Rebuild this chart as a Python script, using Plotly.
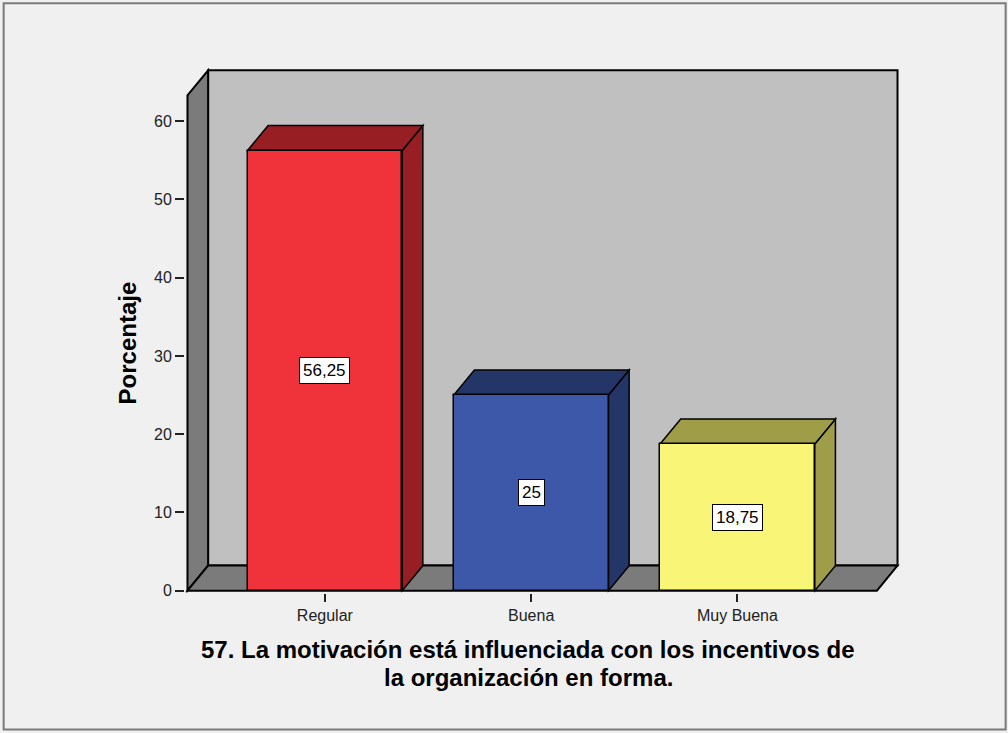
import plotly.graph_objects as go

# ---- data ----
categories = ["Regular", "Buena", "Muy Buena"]
percentages = [56.25, 25, 18.75]
y_ticks = [0, 10, 20, 30, 40, 50, 60]

front_colors = ["#f0323a", "#3d57a9", "#f9f677"]
shade_colors = ["#971e23", "#243568", "#a09d48"]

# ---- geometry of the 3D box (axis units) ----
W, H = 1008, 733
BAR_W = 0.75
X_LEFT, X_RIGHT = -0.666, 2.676   # front plane extent
DX, DY = 0.10, 3.2                # depth offset (back plane shift)
Y_TOP = 63.3                      # front top of the left wall
PAD_X, PAD_Y = 0.012, 0.3         # keep outline strokes inside the clip

SX = 206.5            # px per category
SY = 78.33 / 10       # px per percent
X0_PX, Y0_PX = 187, 591  # where (X_LEFT, 0) sits on the page

xr = [X_LEFT - PAD_X, X_RIGHT + DX + PAD_X]
yr = [-PAD_Y, Y_TOP + DY + PAD_Y]

m_l = X0_PX - PAD_X * SX
plot_w = (xr[1] - xr[0]) * SX
m_r = W - m_l - plot_w
m_b = H - (Y0_PX + PAD_Y * SY)
plot_h = (yr[1] - yr[0]) * SY
m_t = H - m_b - plot_h


def px_to_paper(px, py):
    return (px - m_l) / plot_w, (H - m_b - py) / plot_h


def poly(points):
    return "M " + " L ".join(f"{x},{y}" for x, y in points) + " Z"


FONT = "Arial, Liberation Sans, sans-serif"
shapes = []

# back wall
shapes.append(dict(type="path", xref="x", yref="y", layer="below",
                   path=poly([(X_LEFT + DX, DY), (X_LEFT + DX, Y_TOP + DY),
                              (X_RIGHT + DX, Y_TOP + DY), (X_RIGHT + DX, DY)]),
                   fillcolor="#c0c0c0", line=dict(color="black", width=2)))
# left wall
shapes.append(dict(type="path", xref="x", yref="y", layer="below",
                   path=poly([(X_LEFT, 0), (X_LEFT, Y_TOP),
                              (X_LEFT + DX, Y_TOP + DY), (X_LEFT + DX, DY)]),
                   fillcolor="#7b7b7b", line=dict(color="black", width=2)))
# floor
shapes.append(dict(type="path", xref="x", yref="y", layer="below",
                   path=poly([(X_LEFT, 0), (X_LEFT + DX, DY),
                              (X_RIGHT + DX, DY), (X_RIGHT, 0)]),
                   fillcolor="#7b7b7b", line=dict(color="black", width=2)))

# top and side faces of each bar
for i, v in enumerate(percentages):
    xl, xrgt = i - BAR_W / 2, i + BAR_W / 2
    shapes.append(dict(type="path", xref="x", yref="y", layer="below",
                       path=poly([(xrgt, 0), (xrgt, v), (xrgt + DX, v + DY), (xrgt + DX, DY)]),
                       fillcolor=shade_colors[i], line=dict(color="black", width=1.5)))
    shapes.append(dict(type="path", xref="x", yref="y", layer="below",
                       path=poly([(xl, v), (xl + DX, v + DY), (xrgt + DX, v + DY), (xrgt, v)]),
                       fillcolor=shade_colors[i], line=dict(color="black", width=1.5)))

# outer frame
fx0, fy0 = px_to_paper(3, 730)
fx1, fy1 = px_to_paper(1006, 3)
shapes.append(dict(type="rect", xref="paper", yref="paper", x0=fx0, y0=fy0, x1=fx1, y1=fy1,
                   line=dict(color="#7a7a7a", width=2), fillcolor="rgba(0,0,0,0)"))

fig = go.Figure()
fig.add_trace(go.Bar(
    x=list(range(len(categories))), y=percentages, width=BAR_W,
    marker=dict(color=front_colors, line=dict(color="black", width=1.5)),
    hoverinfo="skip", showlegend=False,
))

annotations = []
for i, v in enumerate(percentages):
    annotations.append(dict(
        x=i, y=v / 2, xref="x", yref="y", showarrow=False,
        text=f"{v:g}".replace(".", ","),
        font=dict(family=FONT, size=17, color="black"),
        bgcolor="white", bordercolor="black", borderwidth=1, borderpad=3,
    ))

# axis title and chart title
ax, ay = px_to_paper(127, 343)
annotations.append(dict(x=ax, y=ay, xref="paper", yref="paper", showarrow=False,
                        text="<b>Porcentaje</b>", textangle=-90,
                        font=dict(family=FONT, size=24, color="black"),
                        xanchor="center", yanchor="middle"))
for line, py in [("57. La motivación está influenciada con los incentivos de", 650),
                 ("la organización en forma.", 678)]:
    tx, ty = px_to_paper(528, py)
    annotations.append(dict(x=tx, y=ty, xref="paper", yref="paper", showarrow=False,
                            text=f"<b>{line}</b>",
                            font=dict(family=FONT, size=24, color="black"),
                            xanchor="center", yanchor="middle"))

fig.update_layout(
    width=W, height=H,
    margin=dict(l=round(m_l), r=round(m_r), t=round(m_t), b=round(m_b), pad=0),
    paper_bgcolor="#f0f0f0", plot_bgcolor="rgba(0,0,0,0)",
    shapes=shapes, annotations=annotations,
    xaxis=dict(range=xr, tickmode="array", tickvals=list(range(len(categories))),
               ticktext=categories, ticks="outside", ticklen=8, tickwidth=1.5,
               tickcolor="#222", showgrid=False, zeroline=False, showline=False,
               tickfont=dict(family=FONT, size=16, color="#222"), fixedrange=True),
    yaxis=dict(range=yr, tickmode="array", tickvals=y_ticks, ticks="outside",
               ticklen=9, tickwidth=1.5, tickcolor="#222", showgrid=False,
               zeroline=False, showline=False,
               tickfont=dict(family=FONT, size=16, color="#222"), fixedrange=True),
    bargap=0,
)

fig.write_html("out.html")
